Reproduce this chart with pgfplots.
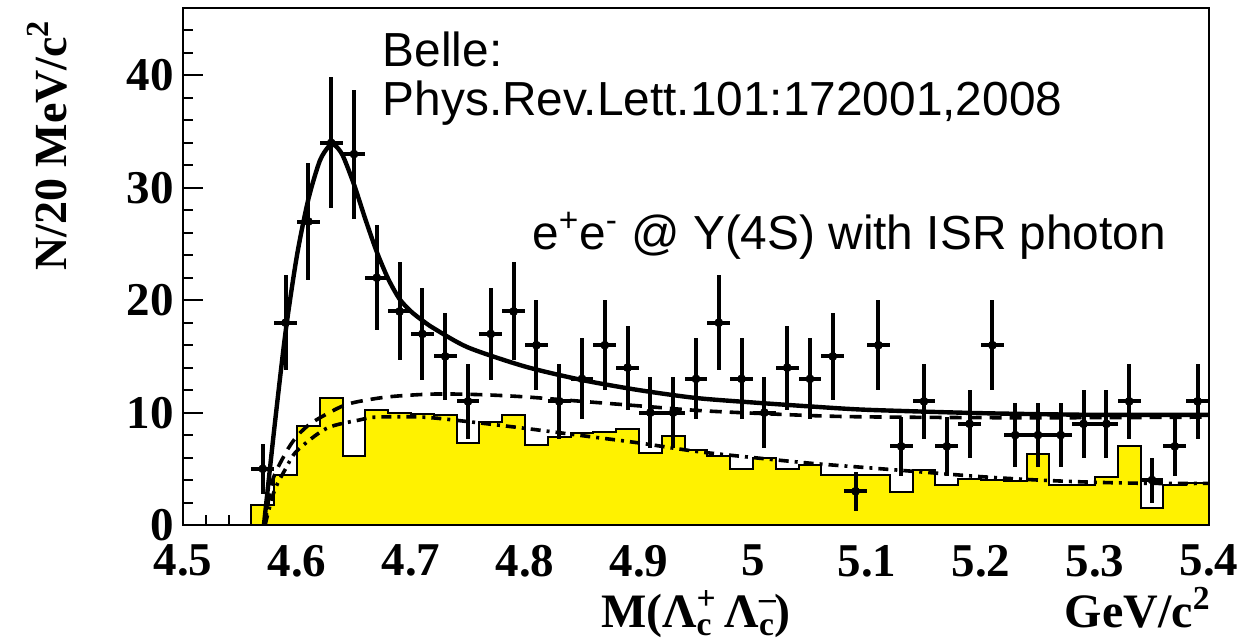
\documentclass[border=0pt]{standalone}
\usepackage{fontspec}
\setmainfont{Liberation Serif}
\setsansfont{Liberation Sans}
\usepackage{pgfplots}
\usepackage{pgfplotstable}
\pgfplotsset{compat=1.18}

% measured points, 20 MeV bins
\pgfplotstableread{
x     y   ey
4.57  5   2.24
4.59  18  4.24
4.61  27  5.20
4.63  34  5.83
4.65  33  5.74
4.67  22  4.69
4.69  19  4.36
4.71  17  4.12
4.73  15  3.87
4.75  11  3.32
4.77  17  4.12
4.79  19  4.36
4.81  16  4.00
4.83  11  3.32
4.85  13  3.61
4.87  16  4.00
4.89  14  3.74
4.91  10  3.16
4.93  10  3.16
4.95  13  3.61
4.97  18  4.24
4.99  13  3.61
5.01  10  3.16
5.03  14  3.74
5.05  13  3.61
5.07  15  3.87
5.09  3   1.73
5.11  16  4.00
5.13  7   2.65
5.15  11  3.32
5.17  7   2.65
5.19  9   3.00
5.21  16  4.00
5.23  8   2.83
5.25  8   2.83
5.27  8   2.83
5.29  9   3.00
5.31  9   3.00
5.33  11  3.32
5.35  4   2.00
5.37  7   2.65
5.39  11  3.32
}\datapts

% sideband histogram (left bin edges)
\pgfplotstableread{
x     h
4.56  1.8
4.58  4.45
4.60  8.8
4.62  11.3
4.64  6.15
4.66  10.2
4.68  9.95
4.70  9.9
4.72  9.8
4.74  7.3
4.76  9.2
4.78  9.8
4.80  7.1
4.82  7.8
4.84  8.2
4.86  8.25
4.88  8.5
4.90  6.4
4.92  7.9
4.94  6.7
4.96  6.15
4.98  5.0
5.00  5.95
5.02  5.0
5.04  5.3
5.06  4.45
5.08  4.45
5.10  4.45
5.12  2.9
5.14  4.85
5.16  3.55
5.18  4.1
5.20  4.0
5.22  3.9
5.24  6.3
5.26  3.6
5.28  3.6
5.30  4.3
5.32  7.0
5.34  1.5
5.36  3.6
5.38  3.7
5.40  3.7
}\bkghist

\begin{document}
\begin{tikzpicture}
\begin{axis}[
  scale only axis,
  width=513pt, height=258.5pt,
  xmin=4.5, xmax=5.4,
  ymin=0, ymax=46,
  xtick={4.5,4.6,4.7,4.8,4.9,5,5.1,5.2,5.3,5.4},
  minor xtick={4.52,4.54,4.56,4.58,4.62,4.64,4.66,4.68,4.72,4.74,4.76,4.78,4.82,4.84,4.86,4.88,4.92,4.94,4.96,4.98,5.02,5.04,5.06,5.08,5.12,5.14,5.16,5.18,5.22,5.24,5.26,5.28,5.32,5.34,5.36,5.38},
  ytick={0,10,20,30,40},
  minor ytick={2,4,6,8,12,14,16,18,22,24,26,28,32,34,36,38,42,44},
  xtick pos=bottom, ytick pos=left,
  tick align=inside,
  major tick length=10pt, minor tick length=5pt,
  tick style={line width=1pt, black},
  axis line style={line width=1pt, black},
  /pgf/number format/assume math mode=true,
  tick label style={font=\fontsize{23.5}{23.5}\selectfont\bfseries},
  xticklabel style={yshift=-6.5pt},
  yticklabel style={xshift=-1pt},
  clip=true,
]
\addplot[fill=yellow, draw=black, line width=1pt, const plot] table[x=x, y=h] {\bkghist} \closedcycle;

% upper background shape (dashed)
\addplot[black, line width=1.8pt, dash pattern=on 6pt off 4pt, smooth] coordinates {
  (4.572,0) (4.578,3.8) (4.59,6.4) (4.60,7.9) (4.613,9.1) (4.636,10.4) (4.65,10.9)
  (4.68,11.4) (4.72,11.65) (4.76,11.6) (4.80,11.4) (4.85,11.0) (4.90,10.6)
  (4.95,10.2) (5.00,9.95) (5.08,9.65) (5.20,9.55) (5.30,9.55) (5.40,9.6)
};
% lower background shape (dash-dotted)
\addplot[black, line width=1.8pt, dash pattern=on 5pt off 3pt on 1.5pt off 3pt, smooth] coordinates {
  (4.572,0) (4.58,3) (4.59,5) (4.60,6.6) (4.626,8.6) (4.655,9.35) (4.67,9.6)
  (4.71,9.6) (4.75,9.2) (4.80,8.6) (4.85,7.95) (4.90,7.3) (4.95,6.55) (5.00,6.0)
  (5.05,5.5) (5.10,5.1) (5.15,4.7) (5.20,4.3) (5.25,4.0) (5.30,3.8) (5.35,3.7) (5.40,3.7)
};
% total fit
\addplot[black, line width=2.2pt, smooth, tension=0.45] coordinates {
  (4.571,0) (4.58,8.5) (4.59,17.2) (4.60,24) (4.61,29) (4.62,32.4) (4.628,33.7)
  (4.633,33.8) (4.64,32.9) (4.65,30.3) (4.66,27.2) (4.67,24.3) (4.68,21.9)
  (4.69,20.1) (4.70,19.0) (4.71,18.2) (4.72,17.5) (4.75,15.8) (4.80,14.1)
  (4.85,12.9) (4.90,12.0) (4.95,11.3) (5.00,10.9) (5.05,10.55) (5.10,10.25)
  (5.20,9.95) (5.30,9.8) (5.40,9.8)
};

\addplot[black, only marks, mark=*, mark size=2pt,
  error bars/.cd, x dir=both, x fixed=0.01, y dir=both, y explicit,
  error mark=none, error bar style={line width=2pt, black}]
  table[x=x, y=y, y error=ey] {\datapts};

\node[anchor=base west, inner sep=0pt, font=\sffamily\fontsize{23.9}{24}\selectfont]
  at (axis cs:4.675,40.8) {Belle:};
\node[anchor=base west, inner sep=0pt, font=\sffamily\fontsize{23.9}{24}\selectfont]
  at (axis cs:4.675,36.4) {Phys.Rev.Lett.101:172001,2008};
\node[anchor=base west, inner sep=0pt, font=\sffamily\fontsize{23.9}{24}\selectfont]
  at (axis cs:4.806,24.55) {e\textsuperscript{+}e\textsuperscript{-} @ Y(4S) with ISR photon};
\end{axis}

\node[rotate=90, anchor=east, font=\fontsize{23}{23}\selectfont\bfseries]
  at (-68pt,256pt) {N/20 MeV/c\textsuperscript{2}};
\node[anchor=base, font=\fontsize{24}{24}\selectfont\bfseries]
  at (256.5pt,-51.5pt) {M(Λ\rlap{\textsuperscript{+}}\textsubscript{c} Λ\rlap{\textsuperscript{–}}\textsubscript{c})};
\node[anchor=base east, inner sep=0pt, font=\fontsize{24}{24}\selectfont\bfseries]
  at (514pt,-51.5pt) {GeV/c\textsuperscript{2}};

\pgfresetboundingbox
\useasboundingbox (-91.5pt,-58pt) rectangle (530.5pt,262.5pt);
\end{tikzpicture}
\end{document}
